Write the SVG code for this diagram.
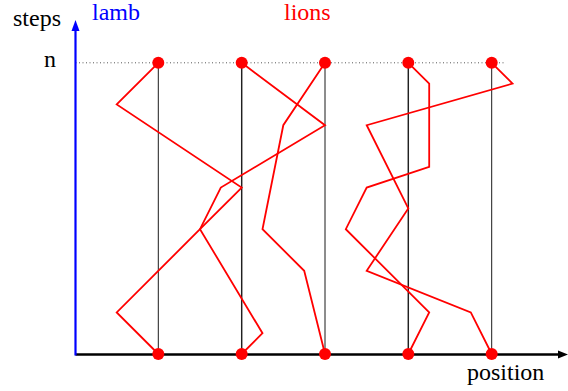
<svg xmlns="http://www.w3.org/2000/svg" width="568" height="391" viewBox="0 0 568 391">
<style>
text{font-family:"Liberation Serif","Times New Roman","DejaVu Serif",serif;font-size:24px}
.walk{fill:none;stroke:#ff0000;stroke-width:1.8;stroke-linejoin:miter}
.vl{stroke:#000;stroke-width:0.9}
.vlg{stroke:#777;stroke-width:1.5}
.dot{fill:#ff0000}
</style>
<rect width="568" height="391" fill="#fff"/>
<g id="connectors">
<line x1="75.5" y1="62.8" x2="505" y2="62.8" stroke="#444" stroke-width="0.9" stroke-dasharray="1,2.5"/>
<line class="vl" x1="158.3" y1="62.8" x2="158.3" y2="354"/>
<line class="vlg" x1="241.7" y1="62.8" x2="241.7" y2="354"/>
<line class="vl" x1="241.7" y1="62.8" x2="241.7" y2="354" stroke-width="0.5"/>
<line class="vl" x1="325" y1="62.8" x2="325" y2="354"/>
<line class="vlg" x1="408.3" y1="62.8" x2="408.3" y2="354"/>
<line class="vl" x1="408.3" y1="62.8" x2="408.3" y2="354" stroke-width="0.5"/>
<line class="vl" x1="491.7" y1="62.8" x2="491.7" y2="354"/>
</g>
<g id="axes">
<line x1="75.5" y1="354.5" x2="560" y2="354.5" stroke="#000" stroke-width="2.4"/>
<polygon points="568,354.5 558,350.5 558,358.5" fill="#000"/>
<line x1="75.5" y1="355.5" x2="75.5" y2="28" stroke="#0000ff" stroke-width="2.2"/>
<polygon points="75.5,20 71.5,31 79.5,31" fill="#0000ff"/>
</g>
<g id="lion1">
<polyline class="walk" points="158.3,62.8 116.7,104.4 241.7,187.6 200,229.2 116.7,312.4 158.3,354"/>
</g>
<g id="lion2">
<polyline class="walk" points="241.7,62.8 325,125.2 220.8,187.6 200,229.2 262.5,333.2 241.7,354"/>
</g>
<g id="lion3">
<polyline class="walk" points="325,62.8 283.3,125.2 262.5,229.2 304.2,270.8 325,354"/>
</g>
<g id="lion4">
<polyline class="walk" points="408.3,62.8 429.2,83.6 429.2,166.8 366.7,187.6 345.8,229.2 429.2,312.4 408.3,354"/>
</g>
<g id="lion5">
<polyline class="walk" points="491.7,62.8 512.5,83.6 366.7,125.2 408.3,208.4 366.7,270.8 470.8,312.4 491.7,354"/>
</g>
<g id="dots">
<circle class="dot" cx="158.3" cy="62.8" r="6"/>
<circle class="dot" cx="241.7" cy="62.8" r="6"/>
<circle class="dot" cx="325" cy="62.8" r="6"/>
<circle class="dot" cx="408.3" cy="62.8" r="6"/>
<circle class="dot" cx="491.7" cy="62.8" r="6"/>
<circle class="dot" cx="158.3" cy="354" r="6"/>
<circle class="dot" cx="241.7" cy="354" r="6"/>
<circle class="dot" cx="325" cy="354" r="6"/>
<circle class="dot" cx="408.3" cy="354" r="6"/>
<circle class="dot" cx="491.7" cy="354" r="6"/>
</g>
<g id="labels">
<text x="13" y="26" fill="#000" font-family="Liberation Serif, serif">steps</text>
<text x="92" y="20" fill="#0000ff" font-family="Liberation Serif, serif">lamb</text>
<text x="284" y="20" fill="#ff0000" font-family="Liberation Serif, serif">lions</text>
<text x="44" y="67" fill="#000" font-family="Liberation Serif, serif">n</text>
<text x="467" y="380" fill="#000" font-family="Liberation Serif, serif">position</text>
</g>
</svg>
